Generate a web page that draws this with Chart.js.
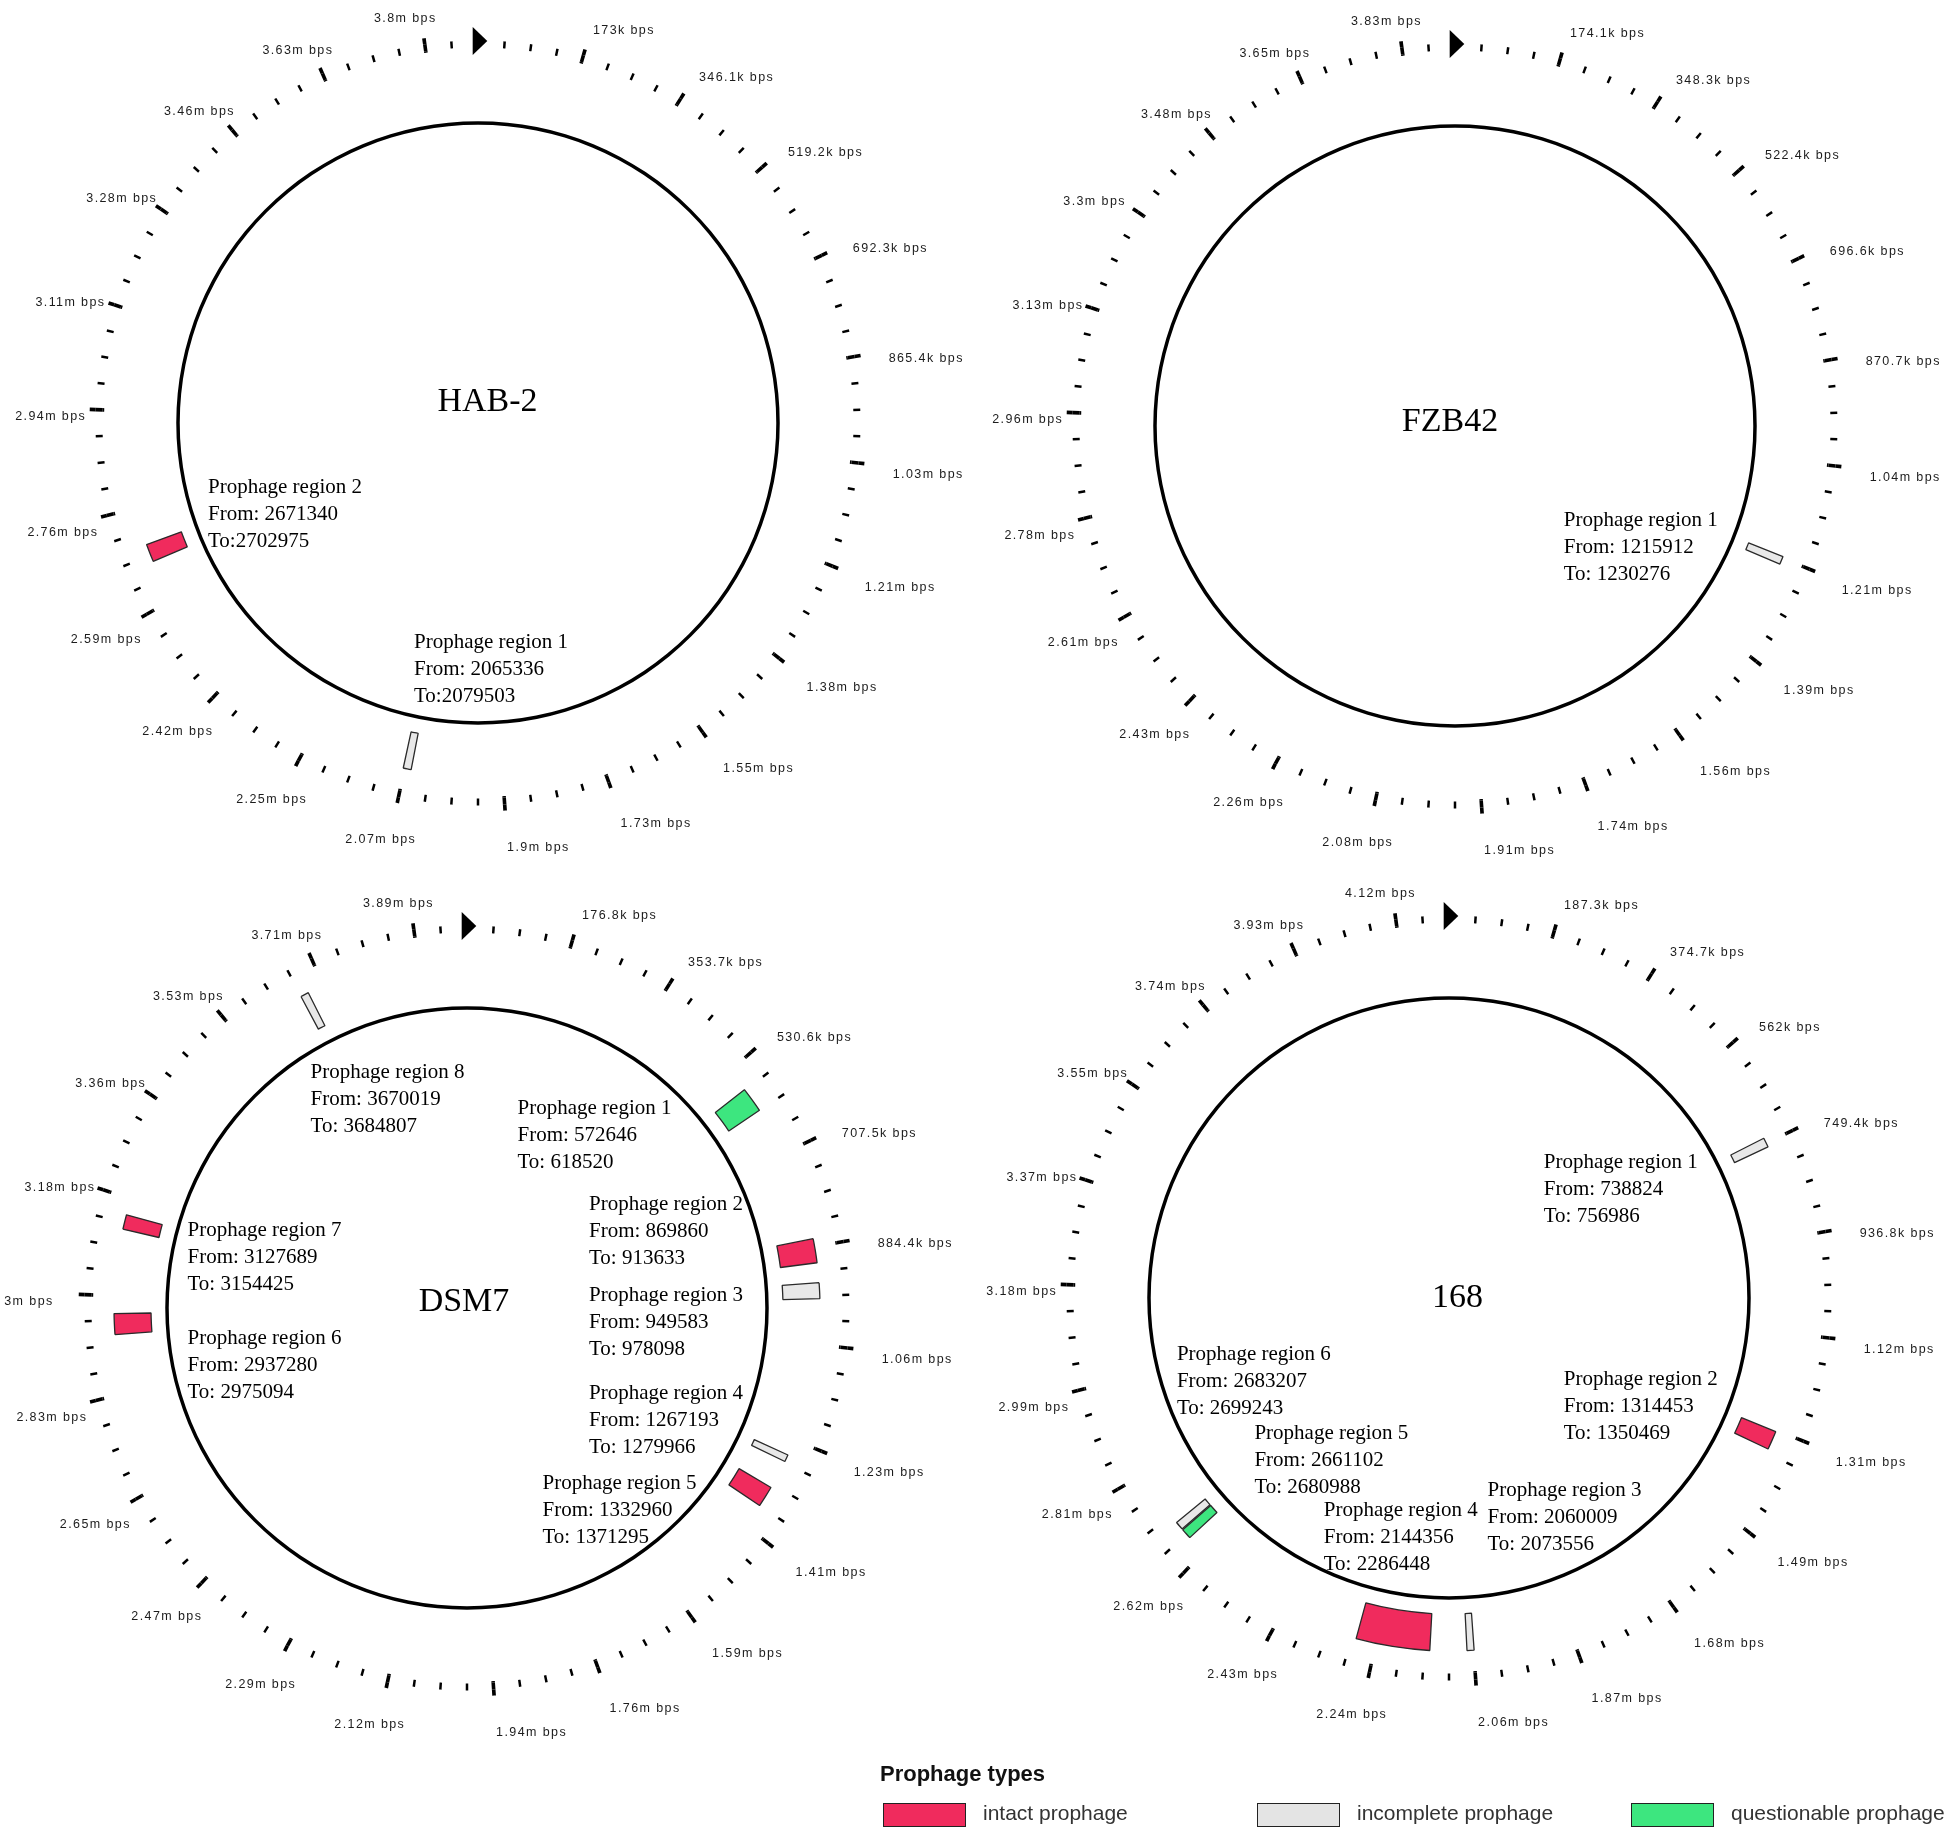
<!DOCTYPE html>
<html>
<head>
<meta charset="utf-8">
<script src="https://cdn.jsdelivr.net/npm/chart.js@4.4.1/dist/chart.umd.min.js"></script>
<style>
  html, body { margin: 0; padding: 0; background: #ffffff; }
  body { width: 1955px; height: 1840px; position: relative; overflow: hidden; }
  canvas.map { position: absolute; }
  .lg-title { position: absolute; left: 880px; top: 1761px; font: bold 22px "Liberation Sans", Arial, sans-serif; color: #111; white-space: nowrap; }
  .lg-box { position: absolute; top: 1803px; width: 81px; height: 22px; border: 1.5px solid #222; }
  .lg-text { position: absolute; top: 1801px; font: 21px "Liberation Sans", Arial, sans-serif; color: #333; white-space: nowrap; }
</style>
</head>
<body>
<div class="lg-title">Prophage types</div>
<div class="lg-box" style="left:883px;background:#F02B5D"></div>
<div class="lg-text" style="left:983px">intact prophage</div>
<div class="lg-box" style="left:1257px;background:#E4E4E4"></div>
<div class="lg-text" style="left:1357px">incomplete prophage</div>
<div class="lg-box" style="left:1631px;background:#3DE67F"></div>
<div class="lg-text" style="left:1731px">questionable prophage</div>

<script>
// ---------------- DATA ----------------
const genomeNames   = ['HAB-2', 'FZB42', 'DSM7', '168'];
const genomeLengths = [3894500, 3918589, 3980199, 4215606];

const hab2TickLabels  = ['173k bps','346.1k bps','519.2k bps','692.3k bps','865.4k bps','1.03m bps','1.21m bps','1.38m bps','1.55m bps','1.73m bps','1.9m bps','2.07m bps','2.25m bps','2.42m bps','2.59m bps','2.76m bps','2.94m bps','3.11m bps','3.28m bps','3.46m bps','3.63m bps','3.8m bps'];
const fzb42TickLabels = ['174.1k bps','348.3k bps','522.4k bps','696.6k bps','870.7k bps','1.04m bps','1.21m bps','1.39m bps','1.56m bps','1.74m bps','1.91m bps','2.08m bps','2.26m bps','2.43m bps','2.61m bps','2.78m bps','2.96m bps','3.13m bps','3.3m bps','3.48m bps','3.65m bps','3.83m bps'];
const dsm7TickLabels  = ['176.8k bps','353.7k bps','530.6k bps','707.5k bps','884.4k bps','1.06m bps','1.23m bps','1.41m bps','1.59m bps','1.76m bps','1.94m bps','2.12m bps','2.29m bps','2.47m bps','2.65m bps','2.83m bps','3m bps','3.18m bps','3.36m bps','3.53m bps','3.71m bps','3.89m bps'];
const b168TickLabels  = ['187.3k bps','374.7k bps','562k bps','749.4k bps','936.8k bps','1.12m bps','1.31m bps','1.49m bps','1.68m bps','1.87m bps','2.06m bps','2.24m bps','2.43m bps','2.62m bps','2.81m bps','2.99m bps','3.18m bps','3.37m bps','3.55m bps','3.74m bps','3.93m bps','4.12m bps'];

const hab2RegionFrom = [2065336, 2671340];
const hab2RegionTo   = [2079503, 2702975];
const hab2RegionType = ['incomplete', 'intact'];

const fzb42RegionFrom = [1215912];
const fzb42RegionTo   = [1230276];
const fzb42RegionType = ['incomplete'];

const dsm7RegionFrom = [572646, 869860, 949583, 1267193, 1332960, 2937280, 3127689, 3670019];
const dsm7RegionTo   = [618520, 913633, 978098, 1279966, 1371295, 2975094, 3154425, 3684807];
const dsm7RegionType = ['questionable', 'intact', 'incomplete', 'incomplete', 'intact', 'intact', 'intact', 'incomplete'];

const b168RegionFrom = [738824, 1314453, 2060009, 2144356, 2661102, 2683207];
const b168RegionTo   = [756986, 1350469, 2073556, 2286448, 2680988, 2699243];
const b168RegionType = ['incomplete', 'intact', 'incomplete', 'intact', 'questionable', 'incomplete'];

// axis definition: 90 ticks per turn, every 4th tick is labelled
const ticksPerTurn = 90;
const ticksPerLabel = 4;

// ---------------- STYLE / LAYOUT ----------------
const typeColors = { intact: '#F02B5D', incomplete: '#E8E8E8', questionable: '#3DE67F' };
const R = { majOut: 388.5, minOut: 382.5, minIn: 375.5, majIn: 374, boxOut: 353, boxIn: 316, circOut: 301.75, circIn: 298.25, label: 417 };
const TICK_W = { major: 3.6, minor: 2.5 };
const CANVAS = 1000;

const layouts = [
  { cx: 478,  cy: 423,  name: [9.5, -21], toPrefix: 'To:',  text: [[-64, 219.5], [-270, 64]] },
  { cx: 1455, cy: 426,  name: [-5, -4],   toPrefix: 'To: ', text: [[108.75, 94.8]] },
  { cx: 467,  cy: 1308, name: [-3, -6],   toPrefix: 'To: ', text: [[50.5, -200], [122, -104], [122, -13], [122, 85.5], [75.5, 175], [-279.5, 30.5], [-279.5, -77.3], [-156.4, -236]] },
  { cx: 1449, cy: 1298, name: [8.5, 0],   toPrefix: 'To: ', text: [[94.75, -136], [114.75, 81], [38.5, 192.5], [-125.25, 212.8], [-194.6, 135.9], [-272.1, 56.2]] }
];

const genomes = [
  { labels: hab2TickLabels,  from: hab2RegionFrom,  to: hab2RegionTo,  type: hab2RegionType },
  { labels: fzb42TickLabels, from: fzb42RegionFrom, to: fzb42RegionTo, type: fzb42RegionType },
  { labels: dsm7TickLabels,  from: dsm7RegionFrom,  to: dsm7RegionTo,  type: dsm7RegionType },
  { labels: b168TickLabels,  from: b168RegionFrom,  to: b168RegionTo,  type: b168RegionType }
];

const CLEAR = 'rgba(0,0,0,0)';

function ring(L, segs, weight, border) {
  const data = [], bg = [], bw = [], idx = [];
  let pos = 0;
  segs.forEach(sg => {
    if (sg.s > pos) { data.push(sg.s - pos); bg.push(CLEAR); bw.push(0); }
    idx.push(data.length);
    data.push(sg.e - sg.s); bg.push(sg.color); bw.push(border || 0);
    pos = sg.e;
  });
  if (pos < L) { data.push(L - pos); bg.push(CLEAR); bw.push(0); }
  return { data, backgroundColor: bg, borderWidth: bw, borderColor: '#2a2a2a', weight, hoverOffset: 0, idx };
}

function makeOverlay(gi) {
  const g = genomes[gi], lay = layouts[gi];
  return {
    id: 'overlay' + gi,
    afterDatasetsDraw(chart) {
      const ctx = chart.ctx;
      const meta = chart.getDatasetMeta(0);
      const majorIdx = chart.data.datasets[0].idx;
      const cx = meta.data[0].x, cy = meta.data[0].y;
      ctx.save();
      // origin arrow
      ctx.save();
      ctx.translate(cx, cy);
      ctx.beginPath();
      ctx.moveTo(-5.3, -368); ctx.lineTo(-5.3, -396); ctx.lineTo(9.3, -382); ctx.closePath();
      ctx.fillStyle = '#000'; ctx.fill();
      ctx.restore();
      // tick labels
      ctx.font = '12.5px "Liberation Sans", Arial, sans-serif';
      try { ctx.letterSpacing = '1.4px'; } catch (e) {}
      ctx.fillStyle = '#1c1c1c';
      ctx.textAlign = 'left';
      ctx.textBaseline = 'top';
      majorIdx.forEach((di, j) => {
        const el = meta.data[di];
        const a = (el.startAngle + el.endAngle) / 2;
        const ax = cx + R.label * Math.cos(a), ay = cy + R.label * Math.sin(a);
        const x = Math.cos(a) >= 0 ? ax : ax - 46;
        ctx.fillText(g.labels[j], x, ay + 2);
      });
      try { ctx.letterSpacing = '0px'; } catch (e) {}
      // genome name
      ctx.fillStyle = '#000';
      ctx.font = '34px "Liberation Serif", "Times New Roman", serif';
      ctx.textAlign = 'center';
      ctx.textBaseline = 'middle';
      ctx.fillText(genomeNames[gi], cx + lay.name[0], cy + lay.name[1]);
      // region labels
      ctx.font = '21px "Liberation Serif", "Times New Roman", serif';
      ctx.textAlign = 'left';
      g.from.forEach((f, i) => {
        const [dx, dy] = lay.text[i];
        const lines = ['Prophage region ' + (i + 1), 'From: ' + f, lay.toPrefix + g.to[i]];
        lines.forEach((t, li) => ctx.fillText(t, cx + dx, cy + dy + li * 27));
      });
      ctx.restore();
    }
  };
}

genomes.forEach((g, gi) => {
  const L = genomeLengths[gi];
  const lay = layouts[gi];
  const canvas = document.createElement('canvas');
  canvas.className = 'map';
  canvas.width = CANVAS; canvas.height = CANVAS;
  canvas.style.width = CANVAS + 'px'; canvas.style.height = CANVAS + 'px';
  canvas.style.left = (lay.cx - CANVAS / 2) + 'px';
  canvas.style.top = (lay.cy - CANVAS / 2) + 'px';
  document.body.insertBefore(canvas, document.body.firstChild);

  const step = L / ticksPerTurn;
  const majorSegs = [], allSegs = [];
  for (let k = 1; k < ticksPerTurn; k++) {
    const p = k * step;
    const major = k % ticksPerLabel === 0;
    const w = (major ? TICK_W.major : TICK_W.minor) / (2 * Math.PI * 379) * L;
    const seg = { s: p - w / 2, e: p + w / 2, color: '#000' };
    allSegs.push(seg);
    if (major) majorSegs.push(seg);
  }
  const boxSegs = g.from.map((f, i) => ({ s: f, e: g.to[i], color: typeColors[g.type[i]] }));

  const datasets = [
    ring(L, majorSegs, R.majOut - R.minOut),
    ring(L, allSegs, R.minOut - R.minIn),
    ring(L, majorSegs, R.minIn - R.majIn),
    ring(L, [], R.majIn - R.boxOut),
    ring(L, boxSegs, R.boxOut - R.boxIn, 1.3),
    ring(L, [], R.boxIn - R.circOut),
    ring(L, [{ s: 0, e: L, color: '#000' }], R.circOut - R.circIn)
  ];

  new Chart(canvas, {
    type: 'doughnut',
    data: { labels: datasets[1].data.map((_, i) => i), datasets },
    options: {
      responsive: false,
      maintainAspectRatio: false,
      animation: false,
      events: [],
      radius: R.majOut,
      cutout: (R.circIn / R.majOut * 100) + '%',
      rotation: 0,
      circumference: 360,
      layout: { padding: 0 },
      plugins: { legend: { display: false }, tooltip: { enabled: false }, title: { display: false } }
    },
    plugins: [makeOverlay(gi)]
  });
});
</script>
</body>
</html>
